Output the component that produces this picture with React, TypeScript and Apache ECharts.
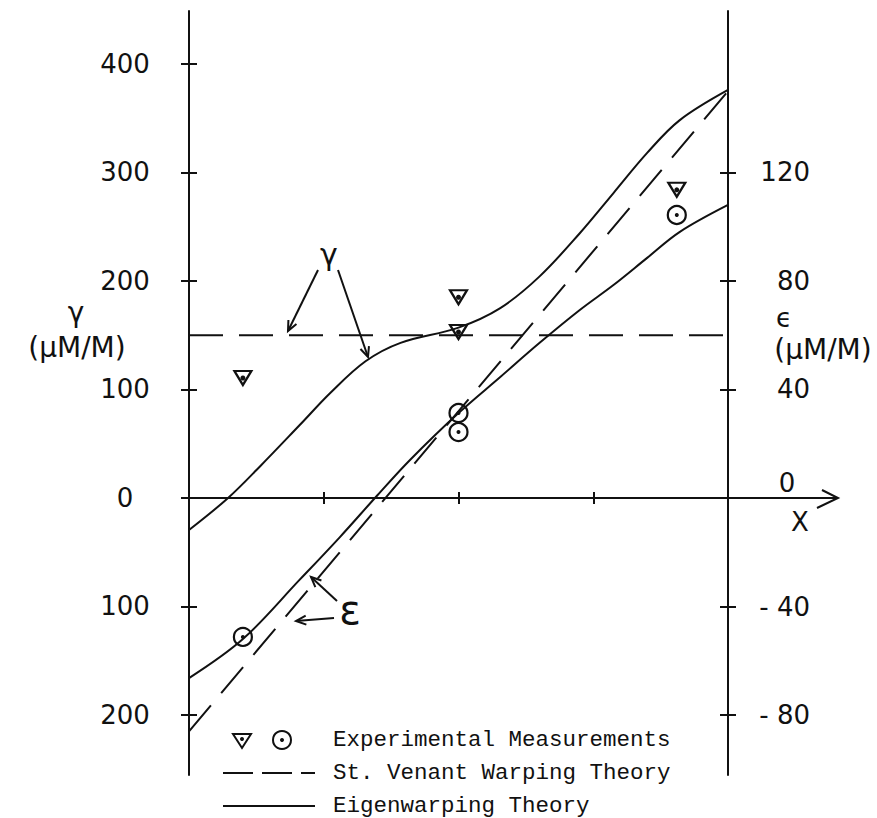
import React, { useEffect, useRef } from "react";
import * as echarts from "echarts";

// ---------- data ----------
const xTickValues = [0, 1, 2, 3, 4];
const gammaTicks = [400, 300, 200, 100, 0, -100, -200];
const epsTicks = [120, 80, 40, -40, -80];
const gammaRange = [-255.3, 448.8];
const epsRange = [-102.1, 179.5];

const stVenantGammaX = [0, 4];
const stVenantGamma = [150, 150];
const stVenantEpsX = [0, 4];
const stVenantEps = [-86, 150];

const eigenGammaX = [0, 0.29, 0.53, 0.82, 1.05, 1.31, 1.57, 2.0, 2.31, 2.6, 2.9, 3.15, 3.4, 3.64, 4];
const eigenGamma = [-29.5, 0, 29.5, 67, 97, 126, 143, 157, 175, 204, 244, 281, 318, 348, 376];

const eigenEpsX = [0, 0.4, 0.82, 1.12, 1.4, 1.64, 2.0, 2.31, 2.6, 2.9, 3.15, 3.4, 3.64, 4];
const eigenEps = [-66.4, -52, -30.2, -14.4, 1.1, 14, 31.3, 44.6, 57.1, 69.3, 78.5, 88.5, 98, 108];

const measGammaX = [0.4, 2.0, 2.0, 3.62];
const measGamma = [110.6, 185, 153, 284];
const measEpsX = [0.4, 2.0, 2.0, 3.62];
const measEps = [-51.2, 31.3, 24.3, 104.3];

const legendLabels = [
  "Experimental Measurements",
  "St. Venant Warping Theory",
  "Eigenwarping Theory",
];

const zip = (xs: number[], ys: number[]) => xs.map((x, i) => [x, ys[i]]);

const BLACK = "#111";
const NUM_FONT = "DejaVu Sans";

function arrow(x1: number, y1: number, x2: number, y2: number, size = 11) {
  const a = Math.atan2(y2 - y1, x2 - x1);
  const s = 0.42;
  const p1 = [x2 - size * Math.cos(a - s), y2 - size * Math.sin(a - s)];
  const p2 = [x2 - size * Math.cos(a + s), y2 - size * Math.sin(a + s)];
  return [
    { type: "line", shape: { x1, y1, x2, y2 }, style: { stroke: BLACK, lineWidth: 2 } },
    {
      type: "polyline",
      shape: { points: [p1, [x2, y2], p2] },
      style: { stroke: BLACK, lineWidth: 2, fill: null },
    },
  ];
}

function txt(text: string, x: number, y: number, size: number, family = NUM_FONT, align = "center") {
  return {
    type: "text",
    style: {
      text,
      x,
      y,
      font: `${size}px "${family}"`,
      fill: BLACK,
      textAlign: align,
      align,
      textVerticalAlign: "middle",
      verticalAlign: "middle",
    },
  };
}

export default function App() {
  const ref = useRef<HTMLDivElement>(null);

  useEffect(() => {
    const chart = echarts.init(ref.current!, null, { renderer: "svg" });

    const axisLineStyle = { color: BLACK, width: 2 };

    const yAxis = [
      {
        type: "value",
        position: "left",
        min: gammaRange[0],
        max: gammaRange[1],
        axisLine: { show: true, onZero: false, lineStyle: axisLineStyle },
        axisTick: { show: true, inside: false, length: 8, customValues: gammaTicks, lineStyle: axisLineStyle },
        axisLabel: {
          show: true,
          customValues: gammaTicks,
          margin: 64,
          align: "center",
          formatter: (v: number) => String(Math.abs(v)),
          color: BLACK,
          fontFamily: NUM_FONT,
          fontSize: 26,
        },
        splitLine: { show: false },
      },
      {
        type: "value",
        position: "left",
        min: gammaRange[0],
        max: gammaRange[1],
        axisLine: { show: false, onZero: false },
        axisTick: { show: true, inside: true, length: 8, customValues: gammaTicks, lineStyle: axisLineStyle },
        axisLabel: { show: false },
        splitLine: { show: false },
      },
      {
        type: "value",
        position: "right",
        min: epsRange[0],
        max: epsRange[1],
        axisLine: { show: true, onZero: false, lineStyle: axisLineStyle },
        axisTick: { show: true, inside: false, length: 8, customValues: epsTicks, lineStyle: axisLineStyle },
        axisLabel: {
          show: true,
          customValues: epsTicks,
          margin: 82,
          align: "right",
          formatter: (v: number) => (v < 0 ? "- " + Math.abs(v) : String(v)),
          color: BLACK,
          fontFamily: NUM_FONT,
          fontSize: 26,
        },
        splitLine: { show: false },
      },
      {
        type: "value",
        position: "right",
        min: epsRange[0],
        max: epsRange[1],
        axisLine: { show: false, onZero: false },
        axisTick: { show: true, inside: true, length: 8, customValues: epsTicks, lineStyle: axisLineStyle },
        axisLabel: { show: false },
        splitLine: { show: false },
      },
    ];

    const xAxis = [
      {
        type: "value",
        position: "bottom",
        min: 0,
        max: 4,
        interval: 1,
        axisLine: { show: true, onZero: true, onZeroAxisIndex: 0, lineStyle: axisLineStyle },
        axisTick: { show: true, length: 6, customValues: xTickValues.slice(1, 4), lineStyle: axisLineStyle },
        axisLabel: { show: false },
        splitLine: { show: false },
      },
      {
        type: "value",
        position: "top",
        min: 0,
        max: 4,
        interval: 1,
        axisLine: { show: true, onZero: true, onZeroAxisIndex: 0, lineStyle: axisLineStyle },
        axisTick: { show: true, length: 6, customValues: xTickValues.slice(1, 4), lineStyle: axisLineStyle },
        axisLabel: { show: false },
        splitLine: { show: false },
      },
    ];

    const dashed = { color: BLACK, width: 2, type: [34, 16] as any };
    const solid = { color: BLACK, width: 2 };
    const hollow = { color: "rgba(0,0,0,0)", borderColor: BLACK, borderWidth: 2.2, opacity: 1 };

    const series = [
      {
        name: "St. Venant γ",
        type: "line",
        xAxisIndex: 0,
        yAxisIndex: 0,
        data: zip(stVenantGammaX, stVenantGamma),
        symbol: "none",
        lineStyle: dashed,
      },
      {
        name: "St. Venant ε",
        type: "line",
        xAxisIndex: 0,
        yAxisIndex: 2,
        data: zip(stVenantEpsX, stVenantEps),
        symbol: "none",
        lineStyle: dashed,
      },
      {
        name: "Eigenwarping γ",
        type: "line",
        xAxisIndex: 0,
        yAxisIndex: 0,
        data: zip(eigenGammaX, eigenGamma),
        symbol: "none",
        smooth: 0.35,
        lineStyle: solid,
      },
      {
        name: "Eigenwarping ε",
        type: "line",
        xAxisIndex: 0,
        yAxisIndex: 2,
        data: zip(eigenEpsX, eigenEps),
        symbol: "none",
        smooth: 0.35,
        lineStyle: solid,
      },
      {
        name: "Measured γ",
        type: "scatter",
        xAxisIndex: 0,
        yAxisIndex: 0,
        data: zip(measGammaX, measGamma),
        symbol: "triangle",
        symbolRotate: 180,
        symbolSize: [17, 14],
        itemStyle: hollow,
        z: 5,
      },
      {
        name: "Measured γ dot",
        type: "scatter",
        xAxisIndex: 0,
        yAxisIndex: 0,
        data: zip(measGammaX, measGamma),
        symbol: "circle",
        symbolSize: 5,
        itemStyle: { color: BLACK, opacity: 1 },
        z: 6,
      },
      {
        name: "Measured ε",
        type: "scatter",
        xAxisIndex: 0,
        yAxisIndex: 2,
        data: zip(measEpsX, measEps),
        symbol: "circle",
        symbolSize: 18,
        itemStyle: hollow,
        z: 5,
      },
      {
        name: "Measured ε dot",
        type: "scatter",
        xAxisIndex: 0,
        yAxisIndex: 2,
        data: zip(measEpsX, measEps),
        symbol: "circle",
        symbolSize: 4,
        itemStyle: { color: BLACK, opacity: 1 },
        z: 6,
      },
    ];

    const graphic: any[] = [
      // x-axis extension and open arrowhead
      { type: "line", shape: { x1: 728, y1: 498, x2: 837, y2: 498 }, style: { stroke: BLACK, lineWidth: 2 } },
      {
        type: "polyline",
        shape: { points: [[822, 490], [838, 498], [817, 508]] },
        style: { stroke: BLACK, lineWidth: 2, fill: null },
      },
      txt("0", 787, 483, 26),
      txt("X", 800, 522, 26),
      // left axis title
      txt("γ", 76, 312, 28),
      txt("(μM/M)", 77, 347, 28),
      // right axis title
      txt("ϵ", 784, 318, 26),
      txt("(μM/M)", 823, 349, 28),
      // γ annotation
      txt("γ", 329, 254, 30),
      ...arrow(318, 270, 288, 331),
      ...arrow(338, 270, 368, 357),
      // ε annotation
      txt("ε", 350, 610, 40),
      ...arrow(334, 618, 296, 621),
      ...arrow(337, 601, 311, 577),
      // legend
      {
        type: "polygon",
        shape: { points: [[233, 734], [251, 734], [242, 748]] },
        style: { stroke: BLACK, lineWidth: 2, fill: "#fff" },
      },
      { type: "circle", shape: { cx: 242, cy: 739, r: 2 }, style: { fill: BLACK } },
      { type: "circle", shape: { cx: 282, cy: 740, r: 9 }, style: { stroke: BLACK, lineWidth: 2, fill: "#fff" } },
      { type: "circle", shape: { cx: 282, cy: 740, r: 2 }, style: { fill: BLACK } },
      {
        type: "line",
        shape: { x1: 223, y1: 773, x2: 315, y2: 773 },
        style: { stroke: BLACK, lineWidth: 2, lineDash: [30, 9] },
      },
      { type: "line", shape: { x1: 223, y1: 806, x2: 315, y2: 806 }, style: { stroke: BLACK, lineWidth: 2 } },
      txt(legendLabels[0], 333, 740, 22.5, "Liberation Mono", "left"),
      txt(legendLabels[1], 333, 773, 22.5, "Liberation Mono", "left"),
      txt(legendLabels[2], 333, 806, 22.5, "Liberation Mono", "left"),
    ];

    chart.setOption({
      animation: false,
      backgroundColor: "#fff",
      grid: { left: 189, top: 11, width: 539, height: 764, containLabel: false },
      xAxis,
      yAxis,
      series,
      graphic,
    });

    return () => chart.dispose();
  }, []);

  return (
    <div
      ref={ref}
      style={{ position: "absolute", left: 0, top: 0, width: 877, height: 818, background: "#fff" }}
    />
  );
}
